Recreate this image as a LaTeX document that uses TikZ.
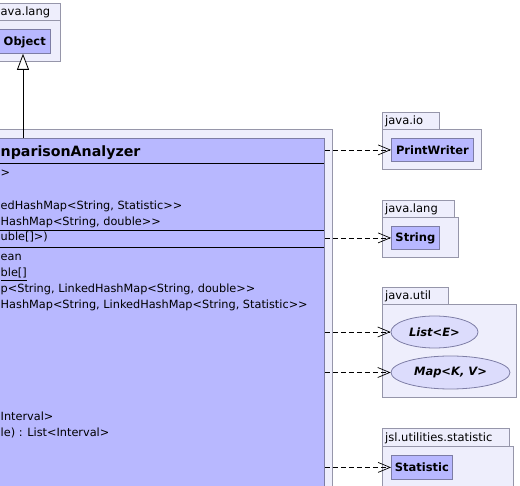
\documentclass[tikz,border=0pt]{standalone}
\usepackage{fontspec}
\setmainfont{DejaVu Sans}
\usetikzlibrary{arrows.meta,shapes.geometric}
\definecolor{pkgfill}{RGB}{238,238,252}
\definecolor{pkgline}{RGB}{150,150,170}
\definecolor{clsfill}{RGB}{184,184,255}
\definecolor{clsline}{RGB}{125,125,165}
\definecolor{ifcfill}{RGB}{220,220,252}
\tikzset{
  pkg/.style={draw=pkgline, fill=pkgfill, line width=0.8pt},
  cls/.style={draw=clsline, fill=clsfill, line width=0.8pt, inner sep=0pt, anchor=north west},
  clsname/.style={font=\bfseries\fontsize{11.5}{13}\selectfont},
  ifc/.style={ellipse, draw=clsline, fill=ifcfill, line width=0.8pt, inner sep=0pt, font=\bfseries\itshape\fontsize{11.5}{13}\selectfont},
  pkgname/.style={font=\fontsize{11.5}{13}\selectfont, anchor=base west, inner sep=0pt},
  mem/.style={font=\fontsize{11.3}{13}\selectfont, anchor=base west, inner sep=0pt},
  sep/.style={draw=black, line width=0.8pt},
  dep/.style={dashed, dash pattern=on 5pt off 3pt, line width=0.7pt, -{Straight Barb[length=12pt,width=10pt,line width=0.7pt]}},
  inh/.style={line width=0.8pt, -{Triangle[open,length=16pt,width=12pt,fill=white,line width=0.8pt]}}
}
\begin{document}
\begin{tikzpicture}[x=1pt,y=-1pt]
\useasboundingbox (0,0) rectangle (520,486);
\clip (0,0) rectangle (520,486);
\fill[white] (0,0) rectangle (520,486);

% package java.lang (Object)
\draw[pkg] (-40,3) rectangle (60,20);
\draw[pkg] (-40,20) rectangle (60,61);
\node[pkgname] (pkgobj) at (0.5,16) {ava.lang};
\node[cls, minimum width=60pt, minimum height=24pt] (obj) at (-10,29) {};
\node[clsname, anchor=base east, inner sep=0pt] (objname) at (46,46) {Object};

% main package and class
\draw[pkg] (-210,129) rectangle (332,600);
\node[cls, minimum width=524pt, minimum height=462pt] (main) at (-200,138) {};
\node[font=\bfseries\fontsize{14.2}{16}\selectfont, anchor=base west, inner sep=0pt] (title) at (0.5,157) {nparisonAnalyzer};
\draw[sep] (-200,163) -- (324,163);
\node[mem] (f1) at (0.5,177) {>};
\node[mem] (f3) at (0.5,210) {edHashMap<String, Statistic>{}>};
\node[mem] (f4) at (0.5,226) {HashMap<String, double>{}>};
\draw[sep] (-200,230.5) -- (324,230.5);
\node[mem] (c1) at (0.5,241) {uble[]>)};
\draw[sep] (-200,247) -- (324,247);
\node[mem] (m1) at (0.5,261) {ean};
\node[mem] (m2) at (0.5,277) {\underline{ble[]}};
\node[mem] (m3) at (0.5,293) {p<String, LinkedHashMap<String, double>{}>};
\node[mem] (m4) at (0.5,309) {HashMap<String, LinkedHashMap<String, Statistic>{}>};
\node[mem] (m5) at (0.5,421) {Interval>};
\node[mem] (m6) at (0.5,437) {le) : List<Interval>};

% inheritance
\coordinate (inhx) at (23,0);
\draw[inh] (main.north -| inhx) -- (obj.south -| inhx);

% java.io
\draw[pkg] (382,112) rectangle (439,129);
\draw[pkg] (382,129) rectangle (481,169);
\node[pkgname] (pkgio) at (385,125) {java.io};
\node[cls, minimum width=82pt, minimum height=23pt] (pw) at (391,138) {};
\node[clsname] at (pw.center) {PrintWriter};

% java.lang (String)
\draw[pkg] (382,200) rectangle (454,217);
\draw[pkg] (382,217) rectangle (458,257);
\node[pkgname] (pkglang) at (385,213) {java.lang};
\node[cls, minimum width=48pt, minimum height=23pt] (str) at (391,226) {};
\node[clsname] at (str.center) {String};

% java.util
\draw[pkg] (382,287) rectangle (448,304);
\draw[pkg] (382,304) rectangle (516,397);
\node[pkgname] (pkgutil) at (385,300) {java.util};
\node[ifc, minimum width=87pt, minimum height=32pt] (list) at (434.5,332) {List<E>};
\node[ifc, minimum width=119pt, minimum height=33pt] (map) at (450.5,372.5) {Map<K, V>};

% jsl.utilities.statistic
\draw[pkg] (382,428) rectangle (509,446);
\draw[pkg] (382,446) rectangle (513,520);
\node[pkgname] (pkgstat) at (385,442) {jsl.utilities.statistic};
\node[cls, minimum width=61pt, minimum height=24pt] (stat) at (391,455) {};
\node[clsname] at (stat.center) {Statistic};

% dependencies
\draw[dep] (main.east |- pw.west) -- (pw.west);
\draw[dep] (main.east |- str.west) -- (str.west);
\draw[dep] (main.east |- list.west) -- (list.west);
\draw[dep] (main.east |- map.west) -- (map.west);
\draw[dep] (main.east |- stat.west) -- (stat.west);
\end{tikzpicture}
\end{document}
